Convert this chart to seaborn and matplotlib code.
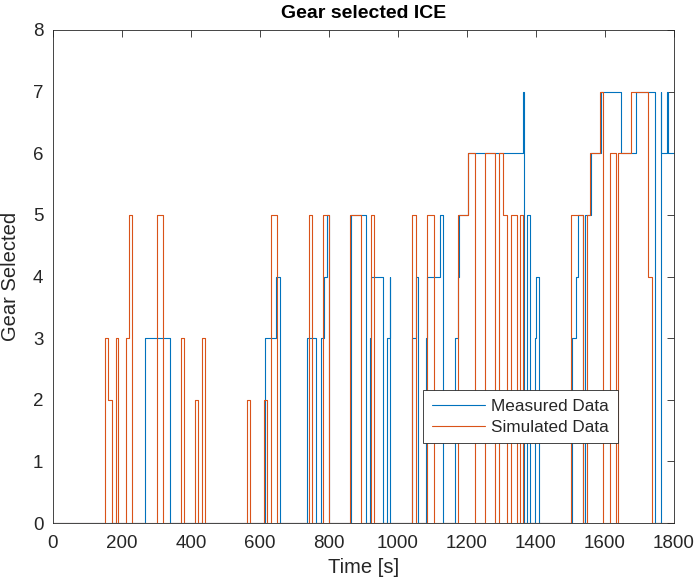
import numpy as np
import pandas as pd
import matplotlib
matplotlib.use("Agg")
import matplotlib.pyplot as plt
import seaborn as sns

# Gear changes: time [s] at which each gear becomes active
meas_time = [0, 267, 340, 615, 645, 657, 735, 761, 778, 785, 793, 801,
             863, 907, 919, 922, 956, 967, 976, 978, 1041, 1052, 1058,
             1080, 1085, 1122, 1131, 1165, 1173, 1177, 1202, 1362, 1364,
             1373, 1383, 1397, 1401, 1410, 1503, 1516, 1523, 1535, 1542,
             1558, 1587, 1645, 1689, 1745, 1761, 1763, 1779, 1782, 1800]
meas_gear = [0, 3, 0, 3, 4, 0, 3, 0, 3, 4, 5, 0,
             5, 0, 3, 4, 0, 3, 4, 0, 3, 4, 0,
             3, 4, 5, 0, 3, 4, 5, 6, 7, 0,
             5, 0, 3, 4, 0, 3, 4, 5, 0, 5,
             6, 7, 6, 7, 0, 7, 6, 7, 6, 6]

sim_time = [0, 151, 160, 170, 182, 189, 211, 221, 230, 301, 320, 371,
            381, 412, 420, 431, 441, 561, 571, 611, 620, 632, 650, 742,
            751, 782, 801, 862, 893, 922, 931, 1042, 1052, 1083, 1103,
            1173, 1202, 1222, 1253, 1281, 1293, 1303, 1315, 1327, 1344,
            1354, 1361, 1502, 1535, 1547, 1557, 1586, 1595, 1614, 1633,
            1638, 1675, 1725, 1736, 1800]
sim_gear = [0, 3, 2, 0, 3, 0, 3, 5, 0, 5, 0, 3,
            0, 2, 0, 3, 0, 2, 0, 2, 0, 5, 0, 5,
            0, 5, 0, 5, 0, 5, 0, 5, 0, 5, 0,
            5, 6, 0, 6, 0, 6, 5, 0, 5, 0,
            5, 0, 5, 0, 5, 6, 7, 0, 6, 0,
            6, 7, 4, 0, 0]

x_ticks = list(range(0, 1801, 200))
y_ticks = list(range(0, 9))

measured = pd.DataFrame({"Time": meas_time, "Gear": meas_gear})
simulated = pd.DataFrame({"Time": sim_time, "Gear": sim_gear})

sns.set_style("white")
plt.rcParams["font.family"] = ["Liberation Sans", "DejaVu Sans"]

dark = "#262626"
fig = plt.figure(figsize=(6.97, 5.85), dpi=100)
ax = fig.add_axes([53 / 697, 1 - 523 / 585, 621 / 697, 493 / 585])

sns.lineplot(data=measured, x="Time", y="Gear", ax=ax, color="#0072BD",
             lw=0.8, drawstyle="steps-post", label="Measured Data",
             estimator=None, sort=False)
sns.lineplot(data=simulated, x="Time", y="Gear", ax=ax, color="#D95319",
             lw=0.8, drawstyle="steps-post", label="Simulated Data",
             estimator=None, sort=False)

ax.set_xlim(0, 1800)
ax.set_ylim(0, 8)
ax.set_xticks(x_ticks)
ax.set_yticks(y_ticks)
ax.tick_params(direction="in", length=5, width=0.6, colors=dark,
               labelsize=13.5, top=True, right=True, labelcolor=dark)
ax.tick_params(axis="x", pad=9)
ax.tick_params(axis="y", pad=7)
for s in ax.spines.values():
    s.set_color(dark)
    s.set_linewidth(0.6)

ax.set_xlabel("Time [s]", fontsize=14.5, color=dark, labelpad=4)
ax.set_ylabel("Gear Selected", fontsize=14.5, color=dark, labelpad=9)
ax.set_title("Gear selected ICE", fontsize=14, fontweight="bold",
             color="black", pad=9)

leg = ax.legend(loc="lower left", bbox_to_anchor=(0.596, 0.162),
                fontsize=12.3, frameon=True, fancybox=False, framealpha=1,
                edgecolor=dark, handlelength=3.1, borderpad=0.5,
                labelspacing=0.35, handletextpad=0.4, borderaxespad=0)
leg.get_frame().set_linewidth(0.6)

fig.savefig("out.png", dpi=100)
